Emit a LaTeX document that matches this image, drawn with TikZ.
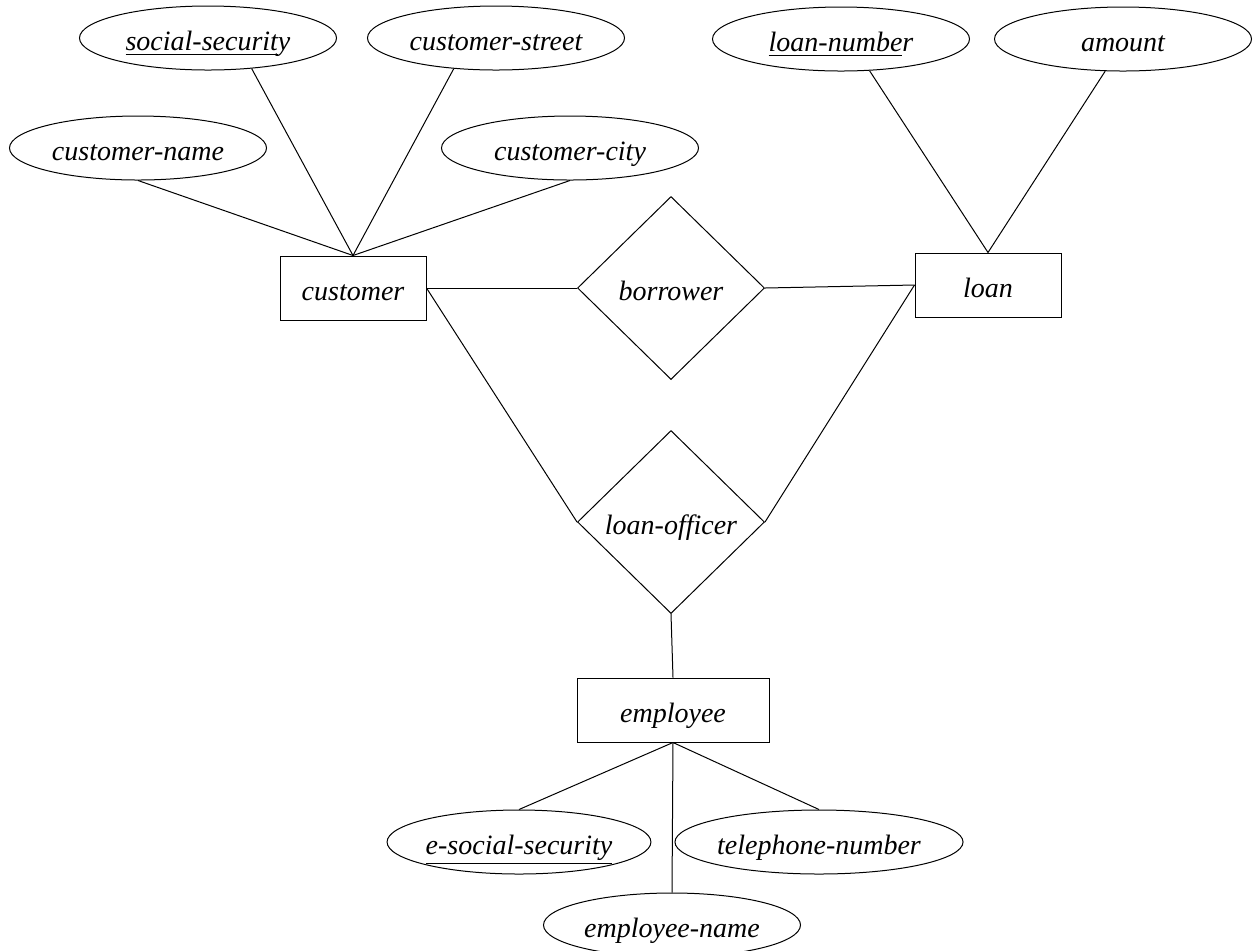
\documentclass[tikz,border=0pt]{standalone}
\usepackage{fontspec}
\setmainfont{Liberation Serif}
\newfontfamily\eritalic{Liberation Serif Italic}
\usepackage{tikz}
\usetikzlibrary{shapes.geometric}

\tikzset{
  erfont/.style={font=\fontsize{14}{16}\selectfont\eritalic,
                 text height=2.8ex, text depth=0pt},
  attr/.style={erfont, draw, ellipse, inner sep=0pt,
               minimum width=128.5pt, minimum height=32pt},
  entity/.style={erfont, draw, rectangle, inner sep=0pt,
                 minimum width=73pt, minimum height=32pt},
  relation/.style={erfont, draw, diamond, aspect=1, inner sep=1pt,
                   minimum width=93.5pt, minimum height=91.5pt},
  link/.style={line width=0.5pt}
}

\begin{document}
\begin{tikzpicture}[x=0.5pt, y=-0.5pt, line width=0.5pt]

\useasboundingbox (0,0) rectangle (1259,950);

% --- customer and its attributes ---
\node[entity] (cust) at (353,288) {customer};
\node[attr] (ssn) at (208,38) {\underline{social-securit}y};
\node[attr] (cstreet) at (496,38) {customer-street};
\node[attr] (cname) at (138,148) {customer-name};
\node[attr] (ccity) at (570,148) {customer-city};

\draw[link] (cname.south) -- (cust.north);
\draw[link] (ssn.-35) -- (cust.north);
\draw[link] (cstreet.-144) -- (cust.north);
\draw[link] (ccity.south) -- (cust.north);

% --- loan and its attributes ---
\node[entity] (loan) at (988,285) {loan};
\node[attr] (loannum) at (841,39) {\underline{loan-numbe}r};
\node[attr] (amount) at (1123,39) {amount};

\draw[link] (loannum.-48) -- (loan.north);
\draw[link] (amount.-119) -- (loan.north);

% --- relationships ---
\node[relation] (borrow) at (671,288) {borrower};
\node[relation] (officer) at (671,522) {loan-officer};

\draw[link] (cust.east) -- (borrow.west);
\draw[link] (borrow.east) -- (loan.west);
\draw[link] (cust.east) -- (officer.west);
\draw[link] (officer.east) -- (loan.west);

% --- employee and its attributes ---
\node[entity, minimum width=96pt] (emp) at (673,710) {employee};
\node[attr] (essn) at (519,842) {\underline{e-social-security}};
\node[attr] (phone) at (819,842) {telephone-number};
\node[attr] (ename) at (672,925) {employee-name};

\draw[link] (officer.south) -- (emp.north);
\draw[link] (emp.south) -- (essn.north);
\draw[link] (emp.south) -- (phone.north);
\draw[link] (emp.south) -- (ename.north);

\end{tikzpicture}
\end{document}
